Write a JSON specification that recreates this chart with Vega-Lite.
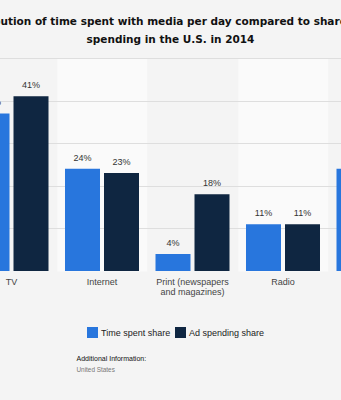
{
  "$schema": "https://vega.github.io/schema/vega-lite/v6.json",
  "width": 341,
  "height": 213,
  "autosize": {"type": "none"},
  "padding": {"top": 58, "left": 0, "right": 0, "bottom": 129},
  "background": "#f4f4f4",
  "title": {
    "text": ["Distribution of time spent with media per day compared to share of ad", "spending in the U.S. in 2014"],
    "font": "DejaVu Sans",
    "fontSize": 10.5,
    "fontWeight": "bold",
    "color": "#111111",
    "lineHeight": 18,
    "anchor": "middle",
    "offset": 13
  },
  "config": {
    "view": {"stroke": null},
    "font": "Liberation Sans"
  },
  "data": {
    "values": [
      {"medium": "TV", "series": "Time spent share", "share": 0.37},
      {"medium": "TV", "series": "Ad spending share", "share": 0.41},
      {"medium": "Internet", "series": "Time spent share", "share": 0.24},
      {"medium": "Internet", "series": "Ad spending share", "share": 0.23},
      {"medium": "Print (newspapers|and magazines)", "series": "Time spent share", "share": 0.04},
      {"medium": "Print (newspapers|and magazines)", "series": "Ad spending share", "share": 0.18},
      {"medium": "Radio", "series": "Time spent share", "share": 0.11},
      {"medium": "Radio", "series": "Ad spending share", "share": 0.11},
      {"medium": "Mobile", "series": "Time spent share", "share": 0.24},
      {"medium": "Mobile", "series": "Ad spending share", "share": 0.08}
    ]
  },
  "encoding": {
    "x": {
      "field": "medium",
      "type": "nominal",
      "sort": null,
      "scale": {"range": [-33.75, 418.75], "paddingInner": 0, "paddingOuter": 0},
      "axis": {
        "title": "Additional Information:",
        "titleX": 76,
        "titleY": 89,
        "titleAlign": "left",
        "titleBaseline": "alphabetic",
        "titleFont": "Liberation Sans",
        "titleFontSize": 7,
        "titleFontWeight": "normal",
        "titleColor": "#111111",
        "labelAngle": 0,
        "labelExpr": "split(datum.label, '|')",
        "labelFontSize": 9,
        "labelColor": "#444444",
        "labelLineHeight": 10,
        "labelPadding": 6,
        "labelBaseline": "top",
        "ticks": false,
        "domain": false,
        "bandPosition": 0.5,
        "grid": true,
        "gridWidth": 90.5,
        "gridColor": {
          "condition": {"test": "datum.value === 'Internet' || datum.value === 'Radio'", "value": "#fafafa"},
          "value": "#f4f4f4"
        },
        "gridOpacity": 1
      }
    },
    "xOffset": {
      "field": "series",
      "type": "nominal",
      "sort": ["Time spent share", "Ad spending share"],
      "scale": {"paddingInner": 0.1026, "paddingOuter": 0.2115}
    },
    "y": {
      "field": "share",
      "type": "quantitative",
      "scale": {"domain": [0, 0.5], "nice": false},
      "axis": {
        "values": [0.1, 0.2, 0.3, 0.4, 0.5],
        "labels": false,
        "ticks": false,
        "domain": false,
        "grid": true,
        "gridColor": "#dedede",
        "gridWidth": 1,
        "title": "United States",
        "titleAngle": 0,
        "titleX": 76,
        "titleY": 313,
        "titleAlign": "left",
        "titleBaseline": "alphabetic",
        "titleFont": "Liberation Sans",
        "titleFontSize": 6.4,
        "titleFontWeight": "normal",
        "titleColor": "#777777"
      }
    }
  },
  "layer": [
    {
      "mark": {"type": "bar"},
      "encoding": {
        "color": {
          "field": "series",
          "type": "nominal",
          "sort": ["Time spent share", "Ad spending share"],
          "scale": {"domain": ["Time spent share", "Ad spending share"], "range": ["#2876dd", "#0f2641"]},
          "legend": {
            "title": null,
            "orient": "none",
            "legendX": 87,
            "legendY": 269,
            "direction": "horizontal",
            "symbolType": "square",
            "symbolSize": 121,
            "symbolStrokeWidth": 0,
            "labelFontSize": 9,
            "labelColor": "#222222",
            "labelOffset": 3,
            "columnPadding": 4
          }
        }
      }
    },
    {
      "mark": {"type": "text", "dy": -6, "fontSize": 9, "color": "#333333", "baseline": "bottom"},
      "encoding": {
        "text": {"field": "share", "type": "quantitative", "format": ".0%"}
      }
    }
  ]
}
